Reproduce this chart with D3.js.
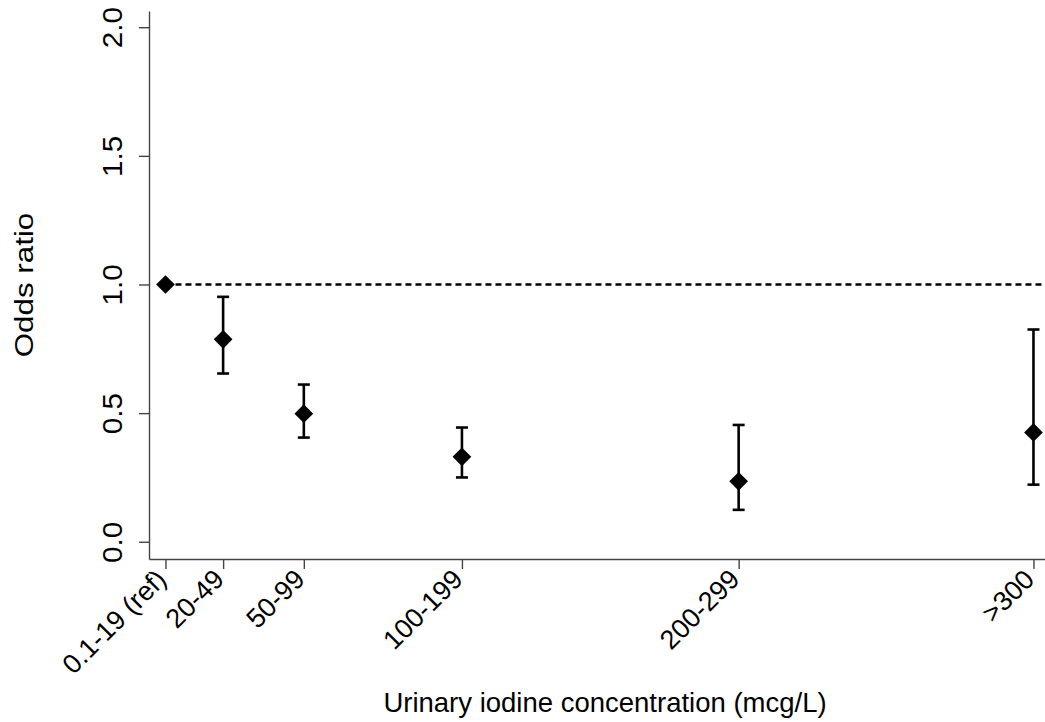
<!DOCTYPE html>
<html>
<head>
<meta charset="utf-8">
<script src="https://cdn.jsdelivr.net/npm/d3@7"></script>
<style>
  html, body { margin: 0; padding: 0; background: #fff; }
  svg { display: block; }
  text { font-family: "Liberation Sans", Arial, Helvetica, sans-serif; fill: #000; }
</style>
</head>
<body>
<svg id="chart" width="1045" height="722"></svg>
<script>
// ---- data ----
const categories = ["0.1-19 (ref)", "20-49", "50-99", "100-199", "200-299", ">300"];
const xPositions = [1, 4.5, 9.4, 19, 35.8, 53.7];          // axis position of each group
const oddsRatio  = [1.0, 0.787, 0.498, 0.330, 0.235, 0.425];
const ciLower    = [null, 0.654, 0.405, 0.250, 0.124, 0.222];
const ciUpper    = [null, 0.952, 0.611, 0.444, 0.454, 0.825];
const yTicks     = [0, 0.5, 1.0, 1.5, 2.0];
const referenceLine = 1.0;
const xTitle = "Urinary iodine concentration (mcg/L)";
const yTitle = "Odds ratio";

// ---- layout ----
const svg = d3.select("#chart");
const axisX0 = 149, axisX1 = 1045, axisYTop = 11, axisYBottom = 559;

const x = d3.scaleLinear().domain([0, 54.4]).range([axisX0, axisX1]);
const y = d3.scaleLinear().domain([-0.067, 2.063]).range([axisYBottom, axisYTop]);

const axisColor = "#444";

// y axis
const yAxis = svg.append("g")
  .attr("transform", `translate(${axisX0},0)`)
  .call(d3.axisLeft(y).tickValues(yTicks).tickFormat(d3.format(".1f")).tickSize(10).tickSizeOuter(0));
yAxis.select(".domain").attr("stroke", axisColor).attr("stroke-width", 1.4);
yAxis.selectAll(".tick line").attr("stroke", axisColor).attr("stroke-width", 1.4);
yAxis.selectAll(".tick text")
  .attr("x", null).attr("dy", null)
  .attr("text-anchor", "middle")
  .attr("transform", "translate(-27,0) rotate(-90) scale(1.1,1)")
  .style("font-size", "27px")
  .style("font-family", "'Liberation Sans', Arial, sans-serif")
  .attr("fill", "#000");

// x axis
const data = categories.map((c, i) => ({ c, pos: xPositions[i], or: oddsRatio[i], lo: ciLower[i], hi: ciUpper[i] }));
const xAxis = svg.append("g")
  .attr("transform", `translate(0,${axisYBottom})`)
  .call(d3.axisBottom(x).tickValues(xPositions).tickFormat((d, i) => categories[i]).tickSize(10).tickSizeOuter(0));
xAxis.select(".domain").attr("stroke", axisColor).attr("stroke-width", 1.4);
xAxis.selectAll(".tick line").attr("stroke", axisColor).attr("stroke-width", 1.4);
xAxis.selectAll(".tick text")
  .attr("y", null).attr("dy", null)
  .attr("text-anchor", "end")
  .attr("transform", "translate(2,22) rotate(-45)")
  .style("font-size", "27px")
  .style("font-family", "'Liberation Sans', Arial, sans-serif")
  .attr("fill", "#000");

// reference line
svg.append("line")
  .attr("x1", x(xPositions[0])).attr("x2", x.range()[1] - 3)
  .attr("y1", y(referenceLine)).attr("y2", y(referenceLine))
  .attr("stroke", "#000").attr("stroke-width", 2.6)
  .attr("stroke-dasharray", "6,4");

// error bars
const bars = data.filter(d => d.lo !== null);
const capW = 6;
const eb = svg.append("g").attr("stroke", "#000").attr("stroke-width", 2.6);
eb.selectAll("line.v").data(bars).join("line").attr("class", "v")
  .attr("x1", d => x(d.pos)).attr("x2", d => x(d.pos))
  .attr("y1", d => y(d.lo)).attr("y2", d => y(d.hi));
eb.selectAll("line.top").data(bars).join("line").attr("class", "top")
  .attr("x1", d => x(d.pos) - capW).attr("x2", d => x(d.pos) + capW)
  .attr("y1", d => y(d.hi)).attr("y2", d => y(d.hi));
eb.selectAll("line.bot").data(bars).join("line").attr("class", "bot")
  .attr("x1", d => x(d.pos) - capW).attr("x2", d => x(d.pos) + capW)
  .attr("y1", d => y(d.lo)).attr("y2", d => y(d.lo));

// diamonds
const diamond = d3.symbol().type(d3.symbolSquare).size(175);
svg.append("g").selectAll("path").data(data).join("path")
  .attr("d", diamond)
  .attr("transform", d => `translate(${x(d.pos)},${y(d.or)}) rotate(45)`)
  .attr("fill", "#000");

// titles
svg.append("text")
  .attr("transform", `translate(33,${(axisYTop + axisYBottom) / 2}) rotate(-90) scale(1.12,0.95)`)
  .attr("text-anchor", "middle")
  .style("font-size", "28px")
  .text(yTitle);

svg.append("text")
  .attr("x", 605).attr("y", 712)
  .attr("text-anchor", "middle")
  .style("font-size", "27.5px")
  .text(xTitle);
</script>
</body>
</html>
